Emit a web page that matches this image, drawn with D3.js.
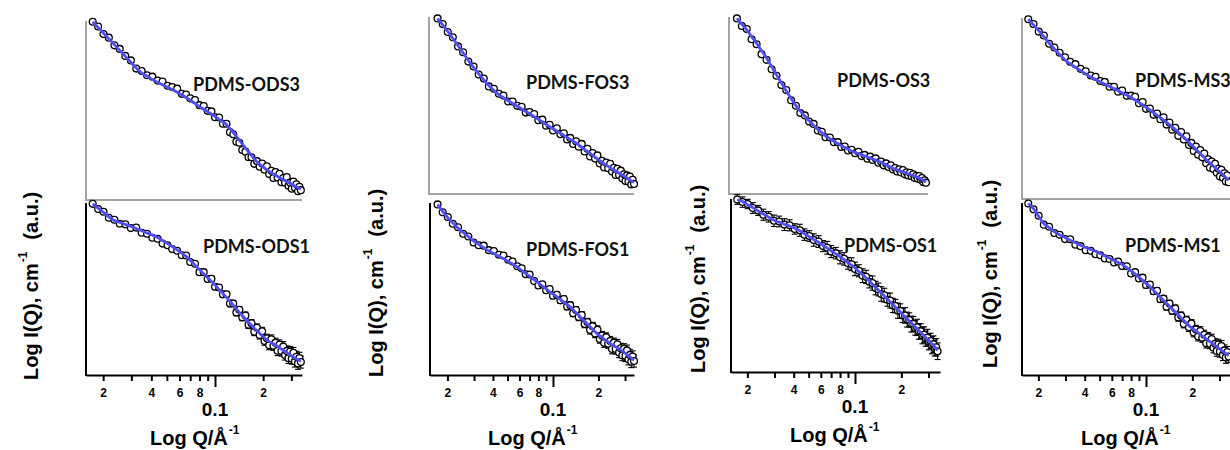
<!DOCTYPE html>
<html><head><meta charset="utf-8">
<script src="https://cdn.jsdelivr.net/npm/d3@7"></script>
<style>html,body{margin:0;padding:0;background:#fff;}svg{display:block;}</style>
</head><body>
<svg id="chart" width="1230" height="450"></svg>
<script>
// ---------- DATA ----------
const Q = [0.0172,0.0186,0.0201,0.0217,0.0235,0.0254,0.0275,0.0298,0.0322,0.0348,0.0376,0.0406,0.0438,0.047,0.0505,0.054,0.058,0.062,0.066,0.07,0.075,0.08,0.085,0.09,0.095,0.1,0.106,0.112,0.118,0.124,0.13,0.136,0.142,0.148,0.155,0.162,0.169,0.176,0.183,0.19,0.197,0.204,0.211,0.218,0.225,0.232,0.239,0.246,0.253,0.26,0.267,0.274,0.281,0.288,0.295,0.302,0.309,0.316,0.323,0.33,0.337,0.344];

const ODS3 = [9.96,9.69,9.27,9.07,8.64,8.44,8.05,7.80,7.34,7.21,6.97,6.89,6.67,6.62,6.38,6.31,6.22,5.93,5.89,5.68,5.59,5.30,5.25,4.98,4.95,4.62,4.61,4.26,4.26,3.79,3.67,3.26,3.20,2.79,2.70,2.39,2.39,2.02,2.17,1.86,2.04,1.69,1.88,1.45,1.63,1.23,1.56,1.26,1.47,0.99,1.23,0.96,1.28,0.79,0.97,0.63,1.03,0.68,0.88,0.49,0.74,0.55];
const ODS3_fit = [9.96,9.64,9.32,9.01,8.68,8.36,8.03,7.70,7.37,7.09,6.92,6.74,6.57,6.44,6.30,6.17,6.02,5.87,5.73,5.58,5.39,5.22,5.07,4.93,4.80,4.67,4.51,4.36,4.21,3.99,3.77,3.56,3.35,3.14,2.90,2.69,2.49,2.30,2.12,2.01,1.89,1.79,1.68,1.60,1.53,1.45,1.38,1.31,1.25,1.19,1.13,1.08,1.03,0.97,0.92,0.88,0.83,0.78,0.73,0.69,0.64,0.60];

const ODS1 = [9.95,9.65,9.49,9.14,9.03,8.79,8.76,8.54,8.57,8.27,8.21,7.98,7.92,7.64,7.54,7.32,7.22,6.96,6.95,6.57,6.47,5.98,5.98,5.58,5.59,5.13,5.09,4.69,4.69,4.16,4.16,3.64,3.79,3.36,3.46,2.92,3.01,2.52,2.75,2.33,2.54,1.98,2.13,1.73,2.08,1.70,1.88,1.41,1.77,1.39,1.66,1.17,1.40,0.98,1.36,0.95,1.29,0.79,1.06,0.67,0.99,0.75];
const ODS1_fit = [9.95,9.70,9.45,9.20,8.98,8.87,8.76,8.64,8.52,8.39,8.26,8.13,8.00,7.82,7.64,7.47,7.27,7.08,6.90,6.67,6.39,6.13,5.88,5.66,5.44,5.23,4.97,4.74,4.51,4.28,4.06,3.84,3.64,3.46,3.26,3.07,2.89,2.72,2.57,2.43,2.29,2.16,2.03,1.95,1.88,1.80,1.73,1.66,1.59,1.51,1.44,1.37,1.30,1.23,1.16,1.10,1.04,0.99,0.94,0.89,0.84,0.80];

const FOS3 = [9.92,9.60,9.15,8.86,8.34,8.01,7.48,7.20,6.75,6.52,6.08,5.95,5.66,5.56,5.23,5.22,4.98,4.93,4.60,4.63,4.52,4.17,4.20,3.86,3.91,3.59,3.71,3.38,3.43,3.08,3.17,2.83,2.98,2.67,2.83,2.40,2.56,2.12,2.31,2.00,2.18,1.73,1.88,1.50,1.78,1.46,1.71,1.27,1.48,1.08,1.42,1.08,1.32,0.88,1.11,0.73,1.05,0.70,0.99,0.54,0.80,0.57];
const FOS3_fit = [9.92,9.55,9.19,8.80,8.39,7.97,7.54,7.15,6.78,6.44,6.13,5.85,5.61,5.44,5.27,5.12,4.96,4.81,4.66,4.53,4.37,4.22,4.08,3.94,3.81,3.69,3.56,3.43,3.31,3.20,3.09,2.98,2.88,2.77,2.65,2.52,2.41,2.30,2.19,2.08,1.98,1.88,1.78,1.70,1.63,1.56,1.49,1.42,1.36,1.30,1.24,1.18,1.12,1.06,1.01,0.95,0.90,0.85,0.79,0.74,0.70,0.65];

const FOS1 = [9.92,9.46,9.18,8.79,8.59,8.21,8.05,7.70,7.54,7.52,7.26,7.21,6.99,6.95,6.70,6.60,6.32,6.20,5.86,5.84,5.46,5.20,5.27,4.93,5.00,4.61,4.66,4.34,4.42,3.98,4.06,3.59,3.78,3.37,3.49,2.97,3.08,2.61,2.84,2.41,2.63,2.10,2.29,1.87,2.20,1.82,1.98,1.51,1.88,1.51,1.79,1.31,1.55,1.14,1.52,1.10,1.43,0.92,1.17,0.77,1.07,0.81];
const FOS1_fit = [9.92,9.51,9.14,8.85,8.54,8.29,8.05,7.80,7.59,7.40,7.21,7.06,6.91,6.77,6.60,6.45,6.27,6.08,5.91,5.74,5.54,5.35,5.17,5.01,4.85,4.71,4.54,4.39,4.24,4.10,3.96,3.79,3.63,3.47,3.29,3.12,2.96,2.81,2.66,2.51,2.38,2.28,2.19,2.09,2.00,1.92,1.83,1.76,1.70,1.63,1.57,1.51,1.45,1.39,1.32,1.25,1.18,1.12,1.05,0.99,0.92,0.86];

const OS3 = [9.92,9.49,9.32,8.74,8.46,7.90,7.58,7.05,6.68,6.16,5.87,5.30,4.99,4.58,4.44,4.09,3.96,3.59,3.52,3.21,3.19,2.93,2.93,2.66,2.68,2.46,2.50,2.30,2.38,2.14,2.21,1.99,2.11,1.92,2.01,1.77,1.84,1.62,1.73,1.53,1.62,1.38,1.47,1.27,1.40,1.22,1.35,1.11,1.23,1.05,1.20,1.00,1.11,0.90,1.03,0.86,1.01,0.81,0.90,0.67,0.77,0.64];
const OS3_fit = [9.92,9.59,9.27,8.89,8.51,8.10,7.68,7.20,6.73,6.28,5.82,5.40,4.99,4.68,4.39,4.14,3.88,3.65,3.47,3.29,3.13,2.98,2.85,2.73,2.63,2.54,2.43,2.35,2.28,2.22,2.15,2.09,2.03,1.98,1.91,1.85,1.79,1.72,1.65,1.58,1.52,1.46,1.41,1.37,1.32,1.28,1.25,1.21,1.17,1.13,1.10,1.06,1.03,1.00,0.97,0.94,0.91,0.87,0.82,0.77,0.72,0.68];

const OS1 = [9.97,9.82,9.71,9.48,9.34,9.09,8.97,8.74,8.70,8.52,8.48,8.27,8.19,7.94,7.86,7.63,7.54,7.28,7.18,6.96,6.87,6.63,6.54,6.28,6.23,5.96,5.85,5.57,5.50,5.22,5.14,4.85,4.77,4.51,4.44,4.18,4.13,3.85,3.81,3.54,3.52,3.27,3.27,3.03,3.01,2.77,2.77,2.55,2.58,2.34,2.36,2.11,2.15,1.93,1.98,1.75,1.79,1.55,1.61,1.38,1.43,1.20];
const OS1_fit = [9.97,9.85,9.67,9.50,9.31,9.13,8.95,8.77,8.66,8.54,8.43,8.31,8.16,7.99,7.82,7.66,7.49,7.32,7.16,7.01,6.83,6.66,6.49,6.32,6.17,6.01,5.81,5.63,5.45,5.26,5.08,4.90,4.73,4.57,4.39,4.22,4.06,3.90,3.75,3.61,3.47,3.33,3.20,3.08,2.95,2.84,2.72,2.61,2.50,2.39,2.29,2.19,2.09,2.00,1.90,1.81,1.72,1.63,1.55,1.45,1.35,1.25];

const MS3 = [9.93,9.67,9.25,9.03,8.58,8.37,8.08,7.83,7.58,7.45,7.19,7.06,6.82,6.75,6.52,6.47,6.20,6.20,5.93,5.99,5.70,5.71,5.65,5.29,5.36,4.98,5.00,4.65,4.72,4.41,4.51,4.11,4.23,3.83,3.93,3.49,3.70,3.29,3.47,2.98,3.10,2.65,2.90,2.45,2.71,2.30,2.51,1.98,2.20,1.73,2.07,1.66,1.95,1.45,1.67,1.24,1.62,1.17,1.42,0.97,1.31,0.93];
const MS3_fit = [9.93,9.62,9.30,8.97,8.62,8.29,7.98,7.68,7.46,7.27,7.09,6.91,6.74,6.61,6.47,6.35,6.22,6.10,5.98,5.87,5.74,5.61,5.47,5.34,5.21,5.08,4.92,4.77,4.62,4.49,4.36,4.23,4.11,3.98,3.83,3.69,3.55,3.41,3.27,3.13,3.00,2.87,2.75,2.63,2.51,2.40,2.29,2.18,2.08,1.98,1.89,1.81,1.73,1.65,1.57,1.49,1.42,1.35,1.27,1.19,1.11,1.03];

const MS1 = [9.97,9.63,9.26,8.74,8.62,8.26,8.15,7.90,7.89,7.57,7.49,7.26,7.22,7.02,6.96,6.78,6.74,6.54,6.59,6.33,6.32,5.90,5.98,5.61,5.66,5.23,5.26,4.87,4.90,4.41,4.44,3.97,4.15,3.74,3.87,3.35,3.45,2.97,3.20,2.77,3.00,2.47,2.65,2.24,2.56,2.17,2.34,1.85,2.20,1.82,2.09,1.59,1.82,1.40,1.78,1.36,1.69,1.17,1.43,1.02,1.33,1.07];
const MS1_fit = [9.97,9.68,9.22,8.80,8.57,8.34,8.15,8.00,7.84,7.69,7.54,7.41,7.30,7.20,7.06,6.93,6.79,6.66,6.54,6.43,6.24,6.05,5.88,5.69,5.51,5.33,5.14,4.92,4.72,4.53,4.34,4.17,4.00,3.84,3.67,3.50,3.33,3.17,3.02,2.87,2.75,2.65,2.55,2.46,2.36,2.27,2.19,2.10,2.02,1.94,1.87,1.79,1.72,1.65,1.58,1.51,1.44,1.37,1.31,1.24,1.18,1.12];

const errOS1 = [0.28,0.3,0.27,0.31,0.29,0.32,0.3,0.33,0.31,0.34,0.32,0.3,0.35,0.33,0.31,0.36,0.34,0.32,0.37,0.35,0.33,0.38,0.36,0.34,0.37,0.39,0.35,0.4,0.38,0.36,0.41,0.39,0.37,0.42,0.4,0.38,0.43,0.41,0.39,0.44,0.42,0.4,0.45,0.43,0.41,0.46,0.44,0.42,0.47,0.45,0.43,0.48,0.46,0.44,0.49,0.47,0.45,0.5,0.48,0.46,0.5,0.48];
const errOther = [0.04,0.05,0.05,0.06,0.05,0.07,0.06,0.08,0.07,0.09,0.08,0.1,0.09,0.11,0.1,0.12,0.11,0.13,0.12,0.14,0.13,0.15,0.14,0.16,0.15,0.17,0.16,0.18,0.17,0.19,0.18,0.2,0.19,0.21,0.2,0.22,0.21,0.23,0.22,0.24,0.23,0.25,0.24,0.26,0.25,0.27,0.26,0.28,0.27,0.29,0.28,0.3,0.29,0.31,0.3,0.32,0.31,0.33,0.32,0.34,0.33,0.35];

const tickValues = [0.02,0.03,0.04,0.05,0.06,0.07,0.08,0.09,0.1,0.2,0.3];
const tickLabels = ['2','','4','','6','','8','','','2',''];
const majorTick = 0.1, majorTickLabel = '0.1';
const xTitleMain = 'Log Q/Å', xTitleSup = '-1';
const yTitleMain = 'Log I(Q), cm', yTitleSup = '-1', yTitleUnit = '(a.u.)';

// ---------- LAYOUT ----------
const panels = [
 {name:'PDMS-ODS3', values:ODS3, fit:ODS3_fit, err:null, frame:'top', x01:215, k:160, left:86, right:302, top:21, bottom:200, lx:193, ly:91},
 {name:'PDMS-ODS1', values:ODS1, fit:ODS1_fit, err:errOther, frame:'bottom', x01:215, k:160, left:86, right:302, top:203, bottom:375, lx:203, ly:253, ytx:37.5, yty:380},
 {name:'PDMS-FOS3', values:FOS3, fit:FOS3_fit, err:null, frame:'top', x01:553, k:151, left:429, right:634, top:17, bottom:194, lx:526, ly:89},
 {name:'PDMS-FOS1', values:FOS1, fit:FOS1_fit, err:errOther, frame:'bottom', x01:553, k:151, left:430, right:634, top:203, bottom:375, lx:526, ly:256, ytx:382.5, yty:377},
 {name:'PDMS-OS3', values:OS3, fit:OS3_fit, err:null, frame:'top', x01:848, k:145.3, left:729, right:928, top:17, bottom:194, lx:837, ly:87},
 {name:'PDMS-OS1', values:OS1, fit:OS1_fit, err:errOS1, frame:'bottom', x01:855, k:154, left:731, right:940, top:199, bottom:372, lx:844, ly:252, ytx:704.5, yty:373},
 {name:'PDMS-MS3', values:MS3, fit:MS3_fit, err:null, frame:'top', x01:1146, k:154, left:1022, right:1245, top:18, bottom:199, lx:1135, ly:87},
 {name:'PDMS-MS1', values:MS1, fit:MS1_fit, err:errOther, frame:'bottom', x01:1146, k:154, left:1022, right:1245, top:203, bottom:375, lx:1125, ly:252, ytx:996.5, yty:368}
];

const svg = d3.select('#chart');
const AX_FONT = '"Liberation Sans", Arial, sans-serif';
const BLUE = '#4f4ff4';
const GRAY = '#a3a3a3';

panels.forEach(p => {
  const base = d3.scaleLog().domain([0.01, 0.1]).range([p.x01 - p.k, p.x01]);
  const x = d3.scaleLog().domain([base.invert(p.left), base.invert(p.right)]).range([p.left, p.right]);
  const y = d3.scaleLinear().domain([0, 10]).range([p.bottom, p.top]);
  const g = svg.append('g');
  const pts = Q.map((q, i) => ({q, v: p.values[i], f: p.fit[i], e: p.err ? p.err[i] : 0}));

  // frame
  if (p.frame === 'top') {
    g.append('line').attr('x1', p.left).attr('x2', p.left).attr('y1', p.top).attr('y2', p.bottom + 1)
      .attr('stroke', GRAY).attr('stroke-width', 2);
    g.append('line').attr('x1', p.left).attr('x2', p.right).attr('y1', p.bottom).attr('y2', p.bottom)
      .attr('stroke', GRAY).attr('stroke-width', 2);
  } else {
    g.append('line').attr('x1', p.left).attr('x2', p.left).attr('y1', p.top).attr('y2', p.bottom + 1)
      .attr('stroke', '#000').attr('stroke-width', 2);
    const ax = g.append('g').attr('transform', `translate(0,${p.bottom})`)
      .call(d3.axisBottom(x).tickValues(tickValues).tickSize(6).tickSizeOuter(0)
        .tickFormat((d, i) => tickLabels[i]));
    ax.select('.domain').attr('stroke', '#000').attr('stroke-width', 2);
    ax.selectAll('.tick line').attr('stroke', '#000').attr('stroke-width', 2)
      .attr('y2', d => d === majorTick ? 12 : 6);
    ax.selectAll('.tick text').attr('y', 21.5).attr('dy', null)
      .attr('font-family', AX_FONT).attr('font-weight', 'bold').attr('font-size', 12).attr('fill', '#000');
    g.append('text').attr('x', x(majorTick)).attr('y', p.bottom + 41).attr('text-anchor', 'middle')
      .attr('font-family', AX_FONT).attr('font-weight', 'bold').attr('font-size', 19).text(majorTickLabel);
    const xt = g.append('text').attr('x', p.x01 - 65).attr('y', p.bottom + 70)
      .attr('font-family', AX_FONT).attr('font-weight', 'bold').attr('font-size', 20);
    xt.append('tspan').text(xTitleMain);
    xt.append('tspan').attr('dy', -11).attr('dx', 1).attr('font-size', 12).text(xTitleSup);
    const yt = g.append('text').attr('transform', `translate(${p.ytx},${p.yty}) rotate(-90)`)
      .attr('font-family', AX_FONT).attr('font-weight', 'bold').attr('font-size', 20);
    yt.append('tspan').text(yTitleMain);
    yt.append('tspan').attr('dy', -11).attr('dx', 1).attr('font-size', 12).text(yTitleSup);
    yt.append('tspan').attr('dy', 11).attr('dx', 12).text(yTitleUnit);
  }

  // error bars
  if (p.err) {
    const eb = g.append('g').attr('stroke', '#000').attr('stroke-width', 1.1);
    pts.forEach(d => {
      const cx = x(d.q), y1 = y(d.v - d.e), y2 = y(d.v + d.e);
      eb.append('line').attr('x1', cx).attr('x2', cx).attr('y1', y1).attr('y2', y2);
      eb.append('line').attr('x1', cx - 3).attr('x2', cx + 3).attr('y1', y1).attr('y2', y1);
      eb.append('line').attr('x1', cx - 3).attr('x2', cx + 3).attr('y1', y2).attr('y2', y2);
    });
  }

  // data points
  g.append('g').selectAll('circle').data(pts).join('circle')
    .attr('cx', d => x(d.q)).attr('cy', d => y(d.v)).attr('r', 3.4)
    .attr('fill', '#fff').attr('stroke', '#000').attr('stroke-width', 1.3);

  // fit line
  g.append('path').datum(pts)
    .attr('d', d3.line().x(d => x(d.q)).y(d => y(d.f)).curve(d3.curveMonotoneX))
    .attr('fill', 'none').attr('stroke', BLUE).attr('stroke-width', 2.8);

  // label
  g.append('text').attr('x', p.lx).attr('y', p.ly)
    .attr('font-family', 'Lato, "Open Sans", sans-serif').attr('font-weight', 'bold')
    .attr('font-size', 18).attr('fill', '#111').text(p.name);
});
</script>
</body></html>
